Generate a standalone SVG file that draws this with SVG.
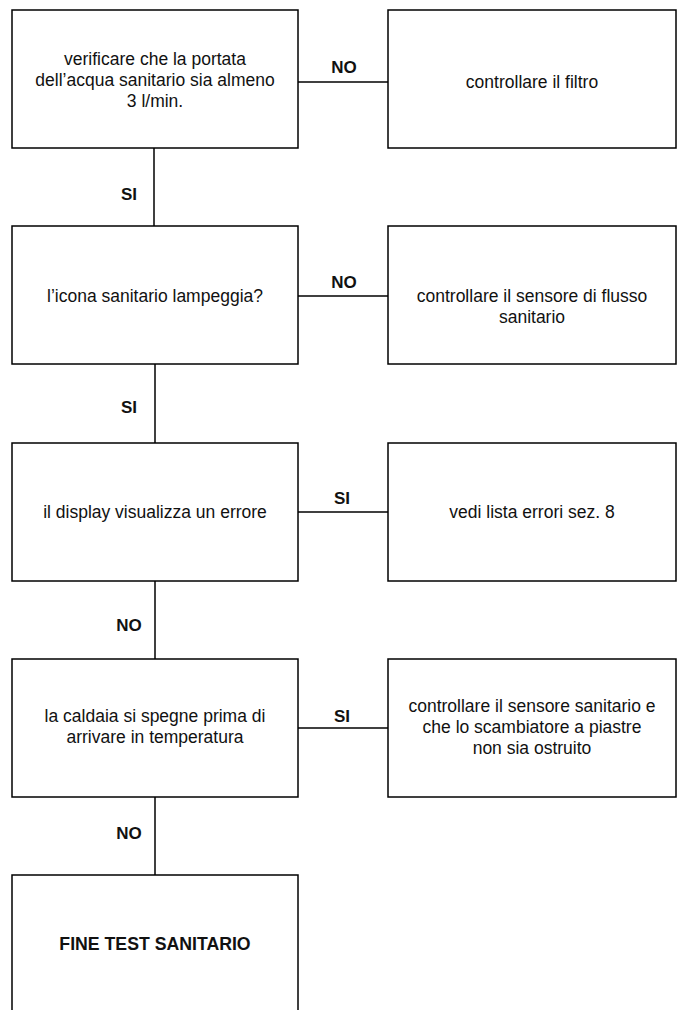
<svg xmlns="http://www.w3.org/2000/svg" width="677" height="1010" viewBox="0 0 677 1010">
<style>
.box{fill:#fff;stroke:#000;stroke-width:1.5}
.ln{stroke:#000;stroke-width:1.5;fill:none}
.t{font-family:"Liberation Sans",Arial,sans-serif;font-size:17.5px;fill:#111;text-anchor:middle}
.b{font-family:"Liberation Sans",Arial,sans-serif;font-size:17px;font-weight:bold;fill:#111;text-anchor:middle}
.title{font-size:17.7px}
</style>
<rect width="677" height="1010" fill="#fff"/>
<g id="connectors">
<line class="ln" x1="298" y1="82" x2="388" y2="82"/>
<line class="ln" x1="154" y1="148" x2="154" y2="226"/>
<line class="ln" x1="298" y1="296" x2="388" y2="296"/>
<line class="ln" x1="155" y1="364" x2="155" y2="443"/>
<line class="ln" x1="298" y1="512" x2="388" y2="512"/>
<line class="ln" x1="155" y1="581" x2="155" y2="659"/>
<line class="ln" x1="298" y1="728" x2="388" y2="728"/>
<line class="ln" x1="155" y1="797" x2="155" y2="875"/>
<text class="b" x="344" y="73">NO</text>
<text class="b" x="129" y="200">SI</text>
<text class="b" x="344" y="288">NO</text>
<text class="b" x="129" y="413">SI</text>
<text class="b" x="342" y="504">SI</text>
<text class="b" x="129" y="631">NO</text>
<text class="b" x="342" y="722">SI</text>
<text class="b" x="129" y="839">NO</text>
</g>
<g id="n1">
<rect class="box" x="12" y="10" width="286" height="138"/>
<text class="t" x="155" y="65">verificare che la portata</text>
<text class="t" x="155" y="86">dell’acqua sanitario sia almeno</text>
<text class="t" x="155" y="107">3 l/min.</text>
</g>
<g id="n1r">
<rect class="box" x="388" y="10" width="288" height="138"/>
<text class="t" x="532" y="88">controllare il filtro</text>
</g>
<g id="n2">
<rect class="box" x="12" y="226" width="286" height="138"/>
<text class="t" x="155" y="302">l’icona sanitario lampeggia?</text>
</g>
<g id="n2r">
<rect class="box" x="388" y="226" width="288" height="138"/>
<text class="t" x="532" y="302">controllare il sensore di flusso</text>
<text class="t" x="532" y="323">sanitario</text>
</g>
<g id="n3">
<rect class="box" x="12" y="443" width="286" height="138"/>
<text class="t" x="155" y="518">il display visualizza un errore</text>
</g>
<g id="n3r">
<rect class="box" x="388" y="443" width="288" height="138"/>
<text class="t" x="532" y="518">vedi lista errori sez. 8</text>
</g>
<g id="n4">
<rect class="box" x="12" y="659" width="286" height="138"/>
<text class="t" x="155" y="722">la caldaia si spegne prima di</text>
<text class="t" x="155" y="743">arrivare in temperatura</text>
</g>
<g id="n4r">
<rect class="box" x="388" y="659" width="288" height="138"/>
<text class="t" x="532" y="712">controllare il sensore sanitario e</text>
<text class="t" x="532" y="733">che lo scambiatore a piastre</text>
<text class="t" x="532" y="754">non sia ostruito</text>
</g>
<g id="n5">
<rect class="box" x="12" y="875" width="286" height="150"/>
<text class="b title" x="155" y="950">FINE TEST SANITARIO</text>
</g>
</svg>
